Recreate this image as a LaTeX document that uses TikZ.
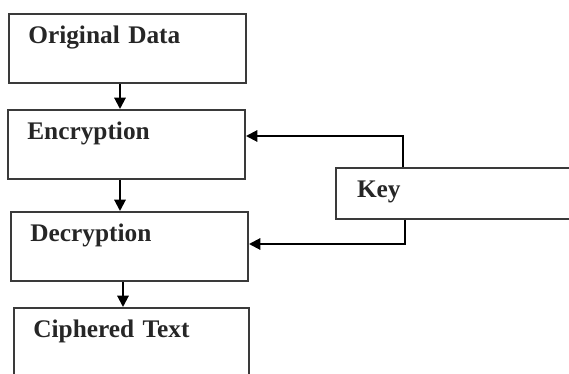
\documentclass[tikz,border=0pt]{standalone}
\usepackage{fontspec}
\setmainfont{Liberation Serif}
\usetikzlibrary{arrows.meta}
\definecolor{linec}{HTML}{3A3A3A}
\definecolor{txtc}{HTML}{262626}
\tikzset{
  stagebox/.style={draw=linec, line width=1.5pt, rectangle, anchor=north west,
    inner xsep=14.5pt, inner ysep=0pt, text width=148.75pt, align=left,
    text height=22.5pt, text depth=29.6pt,
    font=\fontsize{19}{22}\selectfont\bfseries, text=txtc},
  arr/.style={draw=black, line width=1.5pt, -{Triangle[length=8.5pt,width=8.5pt]}}
}
\begin{document}
\begin{tikzpicture}[x=0.75pt,y=-0.75pt]
\useasboundingbox (0,0) rectangle (569,374);
\clip (0,0) rectangle (569,374);
\node[stagebox] (b1) at (8,13) {Original Data};
\node[stagebox] (b2) at (7,109) {Encryption};
\node[stagebox] (b3) at (10,211) {Decryption};
\node[stagebox, text width=147.25pt, text depth=45pt] (b4) at (13,307) {Ciphered Text};
\node[stagebox, text width=182pt, inner xsep=15.75pt, text depth=15.75pt] (key) at (335,167) {Key};
\coordinate (a1) at (120,0);
\coordinate (a3) at (123,0);
\coordinate (k1) at (403,136);
\coordinate (k2) at (405,244);
\draw[arr] (b1.south -| a1) -- (b2.north -| a1);
\draw[arr] (b2.south -| a1) -- (b3.north -| a1);
\draw[arr] (b3.south -| a3) -- (b4.north -| a3);
\draw[arr] (key.north -| k1) |- (b2.east |- k1);
\draw[arr] (key.south -| k2) |- (b3.east |- k2);
\end{tikzpicture}
\end{document}
